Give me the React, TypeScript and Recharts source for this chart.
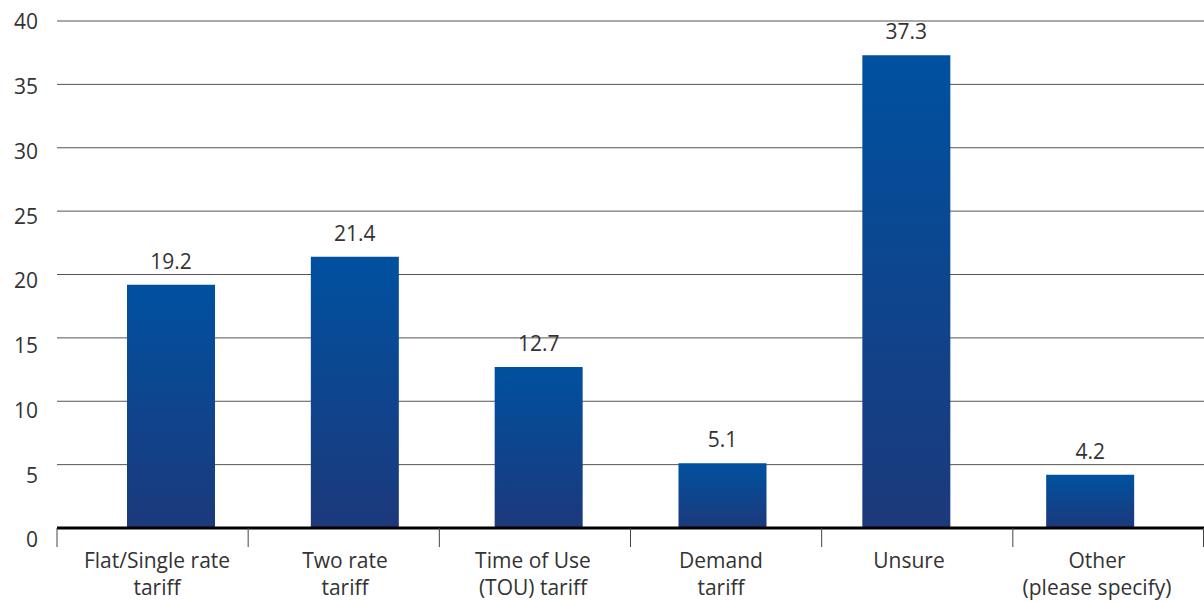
import React from 'react';
import { BarChart, Bar, XAxis, YAxis, CartesianGrid, LabelList } from 'recharts';

const categories = [
  'Flat/Single rate|tariff',
  'Two rate|tariff',
  'Time of Use|(TOU) tariff',
  'Demand|tariff',
  'Unsure',
  'Other|(please specify)',
];
const shares = [19.2, 21.4, 12.7, 5.1, 37.3, 4.2];
const yTicks = [0, 5, 10, 15, 20, 25, 30, 35, 40];

const FONT = '"Open Sans", sans-serif';
const TEXT = '#333333';
const CHART_W = 1204;
const Y_AXIS_W = 57;

const data = categories.map((name, i) => ({ name, value: shares[i] }));

// two-line category label, lines split on "|"
const CategoryTick = (props: any) => {
  const { x, y, payload } = props;
  const lines = String(payload.value).split('|');
  return (
    <text x={x} y={y} textAnchor="middle" fill={TEXT} fontFamily={FONT} fontSize={21}>
      {lines.map((line, i) => (
        <tspan key={i} x={x} dy={i === 0 ? 12 : 27}>
          {line}
        </tspan>
      ))}
    </text>
  );
};

// short separators at the edges of each category band
const BoundaryTick = (props: any) => {
  const { x, y, index } = props;
  const half = (CHART_W - Y_AXIS_W) / categories.length / 2;
  const last = index === categories.length - 1;
  return (
    <g stroke="#444" strokeWidth={1}>
      <line x1={x - half} x2={x - half} y1={y} y2={y + 19} />
      {last && <line x1={x + half - 0.5} x2={x + half - 0.5} y1={y} y2={y + 19} />}
    </g>
  );
};

// value ticks: the lower labels sit a little under their grid line
const ValueTick = (props: any) => {
  const { x, y, payload } = props;
  const drop = 1 + (40 - Number(payload.value)) * 0.275;
  return (
    <text
      x={x}
      y={y + drop}
      dy="0.355em"
      textAnchor="end"
      fill={TEXT}
      fontFamily={FONT}
      fontSize={21}
    >
      {payload.value}
    </text>
  );
};

export default function App() {
  return (
    <div style={{ position: 'absolute', left: 0, top: 0, background: '#fff' }}>
      <BarChart
        width={CHART_W}
        height={602}
        data={data}
        margin={{ top: 21, right: 0, bottom: 0, left: 0 }}
      >
        <defs>
          <linearGradient id="barFill" x1="0" y1="0" x2="0" y2="1">
            <stop offset="0%" stopColor="#0051a0" />
            <stop offset="100%" stopColor="#1c397b" />
          </linearGradient>
        </defs>
        <CartesianGrid xAxisId="bars" vertical={false} stroke="#555" strokeWidth={1} />
        <XAxis
          xAxisId="bars"
          dataKey="name"
          type="category"
          padding={{ left: 22, right: 22 }}
          height={0}
          hide
        />
        <XAxis
          xAxisId="bounds"
          dataKey="name"
          type="category"
          height={20}
          interval={0}
          tickSize={0}
          tickMargin={0}
          tickLine={false}
          tick={<BoundaryTick />}
          axisLine={{ stroke: '#000', strokeWidth: 3 }}
        />
        <XAxis
          xAxisId="labels"
          dataKey="name"
          type="category"
          padding={{ left: 6, right: 13 }}
          height={54}
          interval={0}
          axisLine={false}
          tickLine={false}
          tick={<CategoryTick />}
        />
        <YAxis
          domain={[0, 40]}
          ticks={yTicks}
          width={Y_AXIS_W}
          axisLine={false}
          tickLine={false}
          tickMargin={13}
          tick={<ValueTick />}
        />
        <Bar xAxisId="bars" dataKey="value" barSize={88} fill="url(#barFill)" isAnimationActive={false}>
          <LabelList
            dataKey="value"
            position="top"
            offset={16}
            fill={TEXT}
            fontFamily={FONT}
            fontSize={21}
            formatter={(v: any) => Number(v).toFixed(1)}
          />
        </Bar>
      </BarChart>
    </div>
  );
}
